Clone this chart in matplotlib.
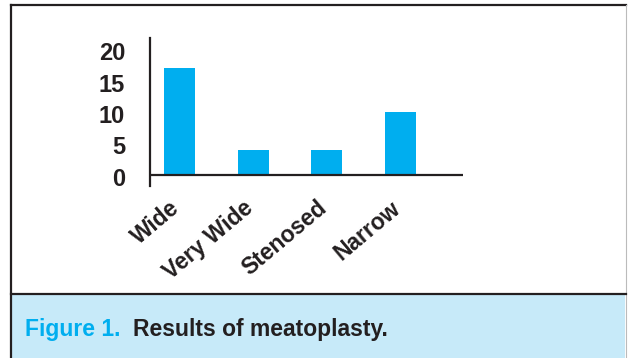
import matplotlib
matplotlib.use("Agg")
import matplotlib.pyplot as plt
import matplotlib.transforms as mtransforms
from matplotlib.patches import Rectangle
from matplotlib.lines import Line2D

categories = ["Wide", "Very Wide", "Stenosed", "Narrow"]
values = [17, 4, 4, 10]
yticks = [0, 5, 10, 15, 20]

BLUE = "#00AEEF"
DARK = "#231F20"
CAP_BG = "#C7EAF9"

W, H = 628, 358
fig = plt.figure(figsize=(W / 100, H / 100), dpi=100)
fig.patch.set_facecolor("white")

def fx(px):
    return px / W

def fy(py):
    return 1 - py / H

# caption box
fig.patches.append(Rectangle((fx(12), 0), fx(625) - fx(12), fy(295), transform=fig.transFigure,
                             facecolor=CAP_BG, edgecolor="none", zorder=0))
# frame lines
fig.lines.append(Line2D([fx(11), fx(11)], [0, fy(5)], transform=fig.transFigure, color=DARK, lw=1.6))
fig.lines.append(Line2D([fx(11), fx(626)], [fy(5), fy(5)], transform=fig.transFigure, color=DARK, lw=1.6))
fig.lines.append(Line2D([fx(626), fx(626)], [0, fy(5)], transform=fig.transFigure, color="#BBBBBB", lw=0.8))
fig.lines.append(Line2D([fx(11), fx(626)], [fy(294), fy(294)], transform=fig.transFigure, color=DARK, lw=1.6))

ax = fig.add_axes([fx(150), fy(186), fx(463) - fx(150), fy(38) - fy(186)])
ax.set_facecolor("none")
x = list(range(len(categories)))
ax.bar(x, values, width=0.42, color=BLUE, zorder=2)
ax.axhline(0, color=DARK, lw=1.6, zorder=3)
ax.set_xlim(-0.4, 3.85)
ax.set_ylim(-1.75, 21.75)
for s in ["top", "right", "bottom"]:
    ax.spines[s].set_visible(False)
ax.spines["left"].set_color(DARK)
ax.spines["left"].set_linewidth(1.6)
ax.set_yticks(yticks)
ax.set_yticklabels([str(v) for v in yticks], fontsize=17, fontweight="bold",
                   color=DARK, family="Liberation Sans")
ax.tick_params(axis="y", length=0, pad=18)
ax.set_xticks(x)
ax.set_xticklabels(categories, rotation=40, ha="right", va="top", rotation_mode="anchor",
                   fontsize=16.5, fontweight="bold", color=DARK, family="Liberation Sans")
ax.tick_params(axis="x", length=0, pad=6)
shift = mtransforms.ScaledTranslation(-10 / 100, -2 / 100, fig.dpi_scale_trans)
for lab in ax.get_xticklabels():
    lab.set_transform(lab.get_transform() + shift)
shift_y = mtransforms.ScaledTranslation(0, -2 / 100, fig.dpi_scale_trans)
for lab in ax.get_yticklabels():
    lab.set_transform(lab.get_transform() + shift_y)

fig.text(fx(25), fy(336), "Figure 1.", fontsize=16.5, fontweight="bold", color=BLUE,
         family="Liberation Sans", va="baseline", ha="left")
fig.text(fx(133), fy(336), "Results of meatoplasty.", fontsize=16.5, fontweight="bold", color=DARK,
         family="Liberation Sans", va="baseline", ha="left")

fig.savefig("out.png", dpi=100)
